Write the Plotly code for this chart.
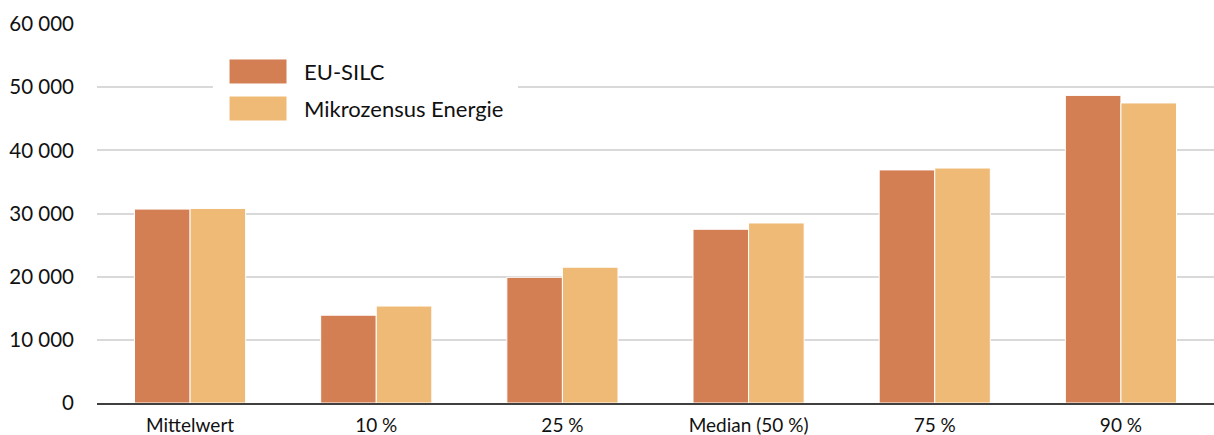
import plotly.graph_objects as go

categories = ["Mittelwert", "10 %", "25 %", "Median (50 %)", "75 %", "90 %"]
series_names = ["EU-SILC", "Mikrozensus Energie"]
eu_silc = [30700, 13900, 19900, 27500, 36900, 48700]
mikrozensus = [30800, 15350, 21500, 28500, 37200, 47500]
y_ticks = [0, 10000, 20000, 30000, 40000, 50000, 60000]

colors = ["#D37F53", "#EFBA75"]
FONT = "Lato, sans-serif"

fig = go.Figure()
for name, vals, col in zip(series_names, [eu_silc, mikrozensus], colors):
    fig.add_trace(go.Bar(
        x=categories, y=vals, name=name,
        marker=dict(color=col, line=dict(color="white", width=1)),
        showlegend=False,
    ))

# custom legend (box + swatches + labels)
shapes = [dict(type="rect", xref="paper", yref="paper", x0=0.1038, x1=0.3769,
               y0=0.699, y1=0.9525, fillcolor="white", line=dict(width=0), layer="above")]
annotations = []
sw_y = [(0.8417, 0.9077), (0.7441, 0.8100)]
for name, col, (y0, y1) in zip(series_names, colors, sw_y):
    shapes.append(dict(type="rect", xref="paper", yref="paper", x0=0.1182, x1=0.1701,
                       y0=y0, y1=y1, fillcolor=col, line=dict(color="white", width=1),
                       layer="above"))
    annotations.append(dict(xref="paper", yref="paper", x=0.1835, y=(y0 + y1) / 2,
                            text=name, showarrow=False, xanchor="left", yanchor="middle",
                            font=dict(family=FONT, size=22, color="#111111")))

fig.update_layout(
    width=1214, height=435,
    margin=dict(l=97, r=0, t=24, b=32),
    paper_bgcolor="white", plot_bgcolor="white",
    barmode="group", bargap=0.403, bargroupgap=0,
    separators=", ",
    shapes=shapes, annotations=annotations,
    font=dict(family=FONT, color="#111111"),
)
fig.update_xaxes(
    showline=True, linecolor="#404040", linewidth=1.5,
    tickfont=dict(family=FONT, size=19, color="#111111"),
    ticks="", showgrid=False, ticklabelstandoff=4,
)
fig.update_yaxes(
    range=[0, 60000], tickvals=y_ticks, tickformat=",d",
    showgrid=True, gridcolor="#D9D9D9", gridwidth=1.5, zeroline=False,
    tickfont=dict(family=FONT, size=20.5, color="#111111"),
    ticklabelstandoff=22,
)

fig.write_html(
    "out.html",
    config={"displayModeBar": False},
    post_script="document.body.style.margin='0';document.body.style.overflow='hidden';",
)
